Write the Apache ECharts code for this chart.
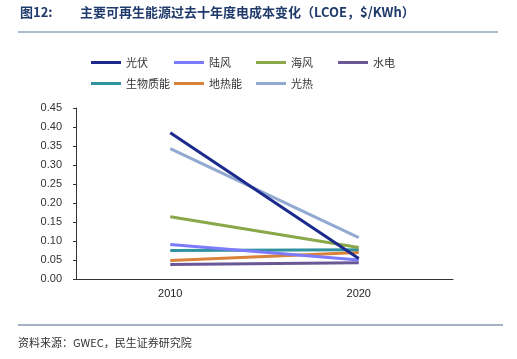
<!DOCTYPE html>
<html><head><meta charset="utf-8">
<script src="https://cdn.jsdelivr.net/npm/echarts@6/dist/echarts.min.js"></script>
<style>html,body{margin:0;padding:0;background:#fff}#c{width:517px;height:359px}</style>
</head><body><div id="c"></div>
<script>
var years = ['2010', '2020'];
var seriesNames = ['光伏', '陆风', '海风', '水电', '生物质能', '地热能', '光热'];
var pv = [0.385, 0.054];
var onshoreWind = [0.091, 0.050];
var offshoreWind = [0.164, 0.083];
var hydro = [0.038, 0.043];
var biomass = [0.075, 0.077];
var geothermal = [0.049, 0.070];
var csp = [0.343, 0.109];
var yTicks = ['0.00','0.05','0.10','0.15','0.20','0.25','0.30','0.35','0.40','0.45'];

var valuesList = [pv, onshoreWind, offshoreWind, hydro, biomass, geothermal, csp];
var colors = ['#1b2a8c', '#7b7bfb', '#8aa84a', '#6a5796', '#31939f', '#d9823a', '#92a9d1'];
var legendPos = [[86,52],[169,52],[251,52],[333,52],[86,73],[169,73],[251,73]];
var font = '"Noto Sans CJK SC", "Liberation Sans", sans-serif';

var chart = echarts.init(document.getElementById('c'));
var series = seriesNames.map(function(n, i){
  return {name: n, type: 'line', data: valuesList[i], symbol: 'none',
    lineStyle: {width: 3, color: colors[i]}, itemStyle: {color: colors[i]}, z: 10 - i};
});
var legends = seriesNames.map(function(n, i){
  return {data: [n], left: legendPos[i][0], top: legendPos[i][1], icon: 'rect',
    itemWidth: 30, itemHeight: 3, itemGap: 4,
    textStyle: {fontSize: 11, color: '#333', fontFamily: font}};
});
chart.setOption({
  animation: false,
  grid: {left: 76, right: 64, top: 108, bottom: 80},
  legend: legends,
  xAxis: {type: 'category', data: years, boundaryGap: true,
    axisLine: {lineStyle: {color: '#333', width: 1}},
    axisTick: {inside: true, length: 4, lineStyle: {color: '#333'}},
    axisLabel: {fontSize: 11, color: '#222', margin: 9, fontFamily: 'Liberation Sans, sans-serif'}},
  yAxis: {type: 'value', min: 0, max: 0.45, interval: 0.05,
    axisLine: {show: true, lineStyle: {color: '#333', width: 1}},
    axisTick: {show: true, length: 3, lineStyle: {color: '#333'}},
    splitLine: {show: false},
    axisLabel: {fontSize: 11, color: '#333', margin: 14, fontFamily: 'Liberation Sans, sans-serif',
      formatter: function(v){ return yTicks[Math.round(v / 0.05)]; }}},
  series: series,
  graphic: [
    {type: 'text', left: 20, top: 6, style: {text: '图12:', font: 'bold 13px ' + font, fill: '#1f3a6b'}},
    {type: 'text', left: 80, top: 6, style: {text: '主要可再生能源过去十年度电成本变化（LCOE，$/KWh）', font: 'bold 13px ' + font, fill: '#1f3a6b'}},
    {type: 'line', shape: {x1: 18, y1: 32, x2: 498, y2: 32}, style: {stroke: '#5a76a0', lineWidth: 1.2}},
    {type: 'line', shape: {x1: 18, y1: 325, x2: 503, y2: 325}, style: {stroke: '#4a6585', lineWidth: 1.2}},
    {type: 'text', left: 18, top: 337, style: {text: '资料来源：GWEC，民生证券研究院', font: '11px ' + font, fill: '#333'}}
  ]
});
</script></body></html>
